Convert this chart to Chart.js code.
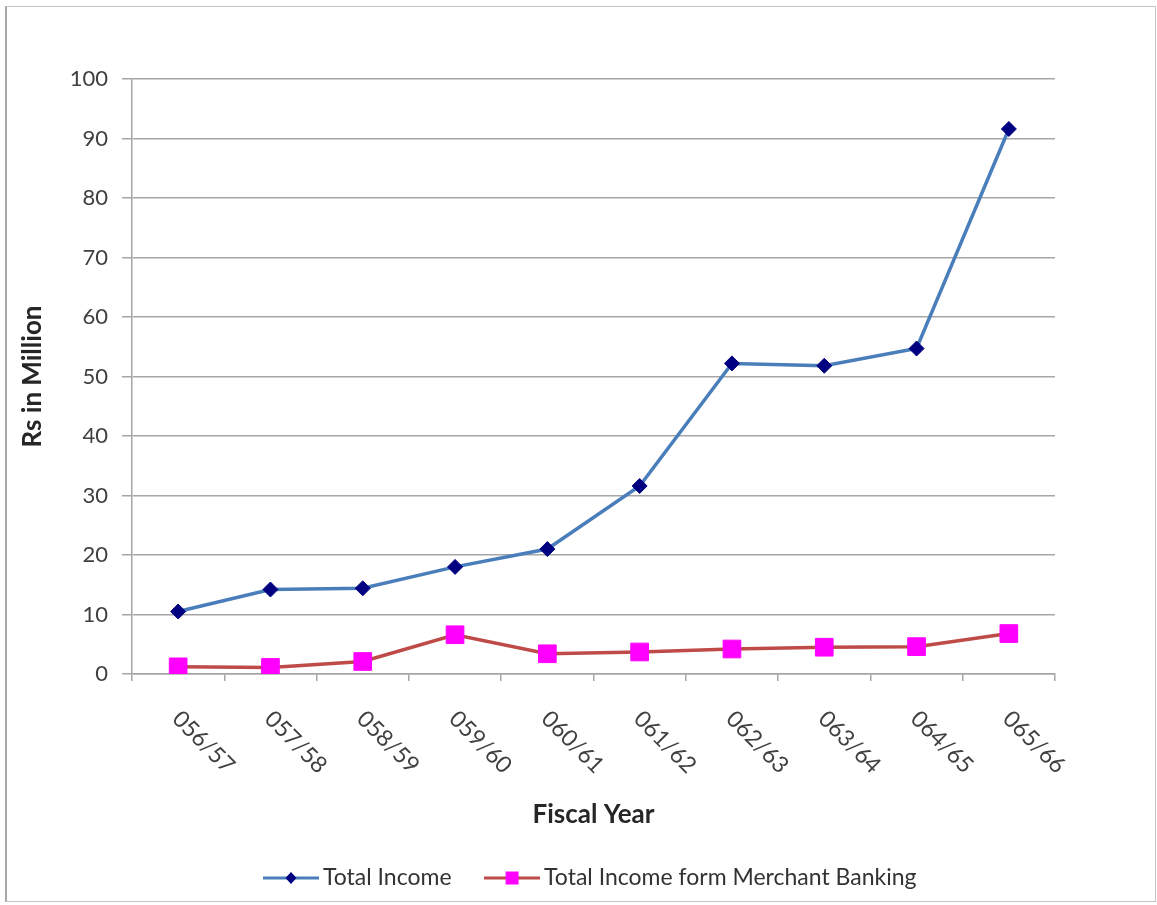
<!DOCTYPE html>
<html>
<head>
<meta charset="utf-8">
<script src="https://cdn.jsdelivr.net/npm/chart.js@4.4.1/dist/chart.umd.min.js"></script>
<style>
  body { margin: 0; background: #fff; }
  #wrap { position: relative; width: 1157px; height: 905px; }
  #frame {
    position: absolute; left: 5px; top: 6px; width: 1148px; height: 894px;
    border: 1px solid #c4c4c4; border-left: 2px solid #a8a8a8;
    pointer-events: none;
  }
</style>
</head>
<body>
<div id="wrap">
  <canvas id="myChart" width="1157" height="905"></canvas>
  <div id="frame"></div>
</div>
<script>
const fiscalYears = ["056/57", "057/58", "058/59", "059/60", "060/61",
  "061/62", "062/63", "063/64", "064/65", "065/66"];
const totalIncome = [10.5, 14.2, 14.4, 18.0, 21.0, 31.6, 52.2, 51.8, 54.7, 91.6];
const merchantIncome = [1.2, 1.1, 2.1, 6.6, 3.4, 3.7, 4.2, 4.5, 4.6, 6.8];
const yTickValues = [0, 10, 20, 30, 40, 50, 60, 70, 80, 90, 100];

const FONT = "Lato";
const gridColor = "#a6a6a6";

// small line+marker swatches for the legend
function legendSwatch(lineColor, drawMarker) {
  const c = document.createElement("canvas");
  c.width = 56;
  c.height = 20;
  const g = c.getContext("2d");
  g.strokeStyle = lineColor;
  g.lineWidth = 3;
  g.beginPath();
  g.moveTo(0, 10);
  g.lineTo(56, 10);
  g.stroke();
  drawMarker(g, 28, 10);
  return c;
}
const incomeSwatch = legendSwatch("#4a7ebb", (g, x, y) => {
  g.fillStyle = "#000080";
  g.beginPath();
  g.moveTo(x, y - 6);
  g.lineTo(x + 5.5, y);
  g.lineTo(x, y + 6);
  g.lineTo(x - 5.5, y);
  g.closePath();
  g.fill();
});
const merchantSwatch = legendSwatch("#be4b48", (g, x, y) => {
  g.fillStyle = "#ff00ff";
  g.fillRect(x - 6.5, y - 6.5, 13, 13);
});

// x labels run downwards to the right, which the category axis can't do itself
const slantedLabels = {
  id: "slantedLabels",
  afterDraw(chart) {
    const xs = chart.scales.x;
    const ctx = chart.ctx;
    ctx.save();
    ctx.font = "23px " + FONT;
    ctx.fillStyle = "#404040";
    ctx.textAlign = "left";
    ctx.textBaseline = "middle";
    fiscalYears.forEach((label, i) => {
      const px = xs.getPixelForValue(i);
      ctx.save();
      ctx.translate(px - 2, xs.top + 41);
      ctx.rotate(Math.PI / 4);
      ctx.fillText(label, 0, 0);
      ctx.restore();
    });
    ctx.restore();
  },
};

new Chart("myChart", {
  type: "line",
  data: {
    labels: fiscalYears,
    datasets: [
      {
        label: "Total Income",
        data: totalIncome,
        borderColor: "#4a7ebb",
        borderWidth: 3.5,
        pointStyle: "rectRot",
        pointRadius: 7.5,
        pointBackgroundColor: "#000080",
        pointBorderColor: "#000080",
        pointBorderWidth: 1,
        tension: 0,
      },
      {
        label: "Total Income form Merchant Banking",
        data: merchantIncome,
        borderColor: "#be4b48",
        borderWidth: 3.5,
        pointStyle: "rect",
        pointRadius: 12.5,
        pointBackgroundColor: "#ff00ff",
        pointBorderColor: "#ff00ff",
        pointBorderWidth: 1,
        tension: 0,
      },
    ],
  },
  options: {
    responsive: false,
    animation: false,
    layout: { padding: { top: 79, left: 14, right: 102, bottom: 5.5 } },
    scales: {
      x: {
        offset: true,
        afterFit(scale) { scale.height = 152.5; },
        grid: {
          offset: true,
          drawOnChartArea: false,
          tickLength: 7,
          color: gridColor,
          lineWidth: 1.5,
        },
        border: { color: gridColor, width: 1.5 },
        ticks: { display: false },
        title: {
          display: true,
          text: "Fiscal Year",
          color: "#262626",
          font: { family: FONT, size: 26, weight: "bold" },
          padding: { top: 0, bottom: -4 },
        },
      },
      y: {
        min: yTickValues[0],
        max: yTickValues[yTickValues.length - 1],
        afterFit(scale) { scale.width = 118; },
        ticks: {
          stepSize: yTickValues[1] - yTickValues[0],
          color: "#404040",
          padding: 14,
          font: { family: FONT, size: 22 },
        },
        grid: { color: gridColor, lineWidth: 1.5, tickLength: 10 },
        border: { color: gridColor, width: 1.5 },
        title: {
          display: true,
          text: "Rs in Million",
          color: "#262626",
          font: { family: FONT, size: 26, weight: "bold" },
          padding: { top: 3, bottom: 0 },
        },
      },
    },
    plugins: {
      legend: {
        position: "bottom",
        fullSize: false,
        labels: {
          color: "#333333",
          font: { family: FONT, size: 23 },
          usePointStyle: true,
          pointStyleWidth: 41,
          padding: 40,
          generateLabels(chart) {
            const items = Chart.defaults.plugins.legend.labels.generateLabels(chart);
            items[0].pointStyle = incomeSwatch;
            items[1].pointStyle = merchantSwatch;
            return items;
          },
        },
      },
      tooltip: { enabled: false },
    },
  },
  plugins: [slantedLabels],
});
</script>
</body>
</html>
